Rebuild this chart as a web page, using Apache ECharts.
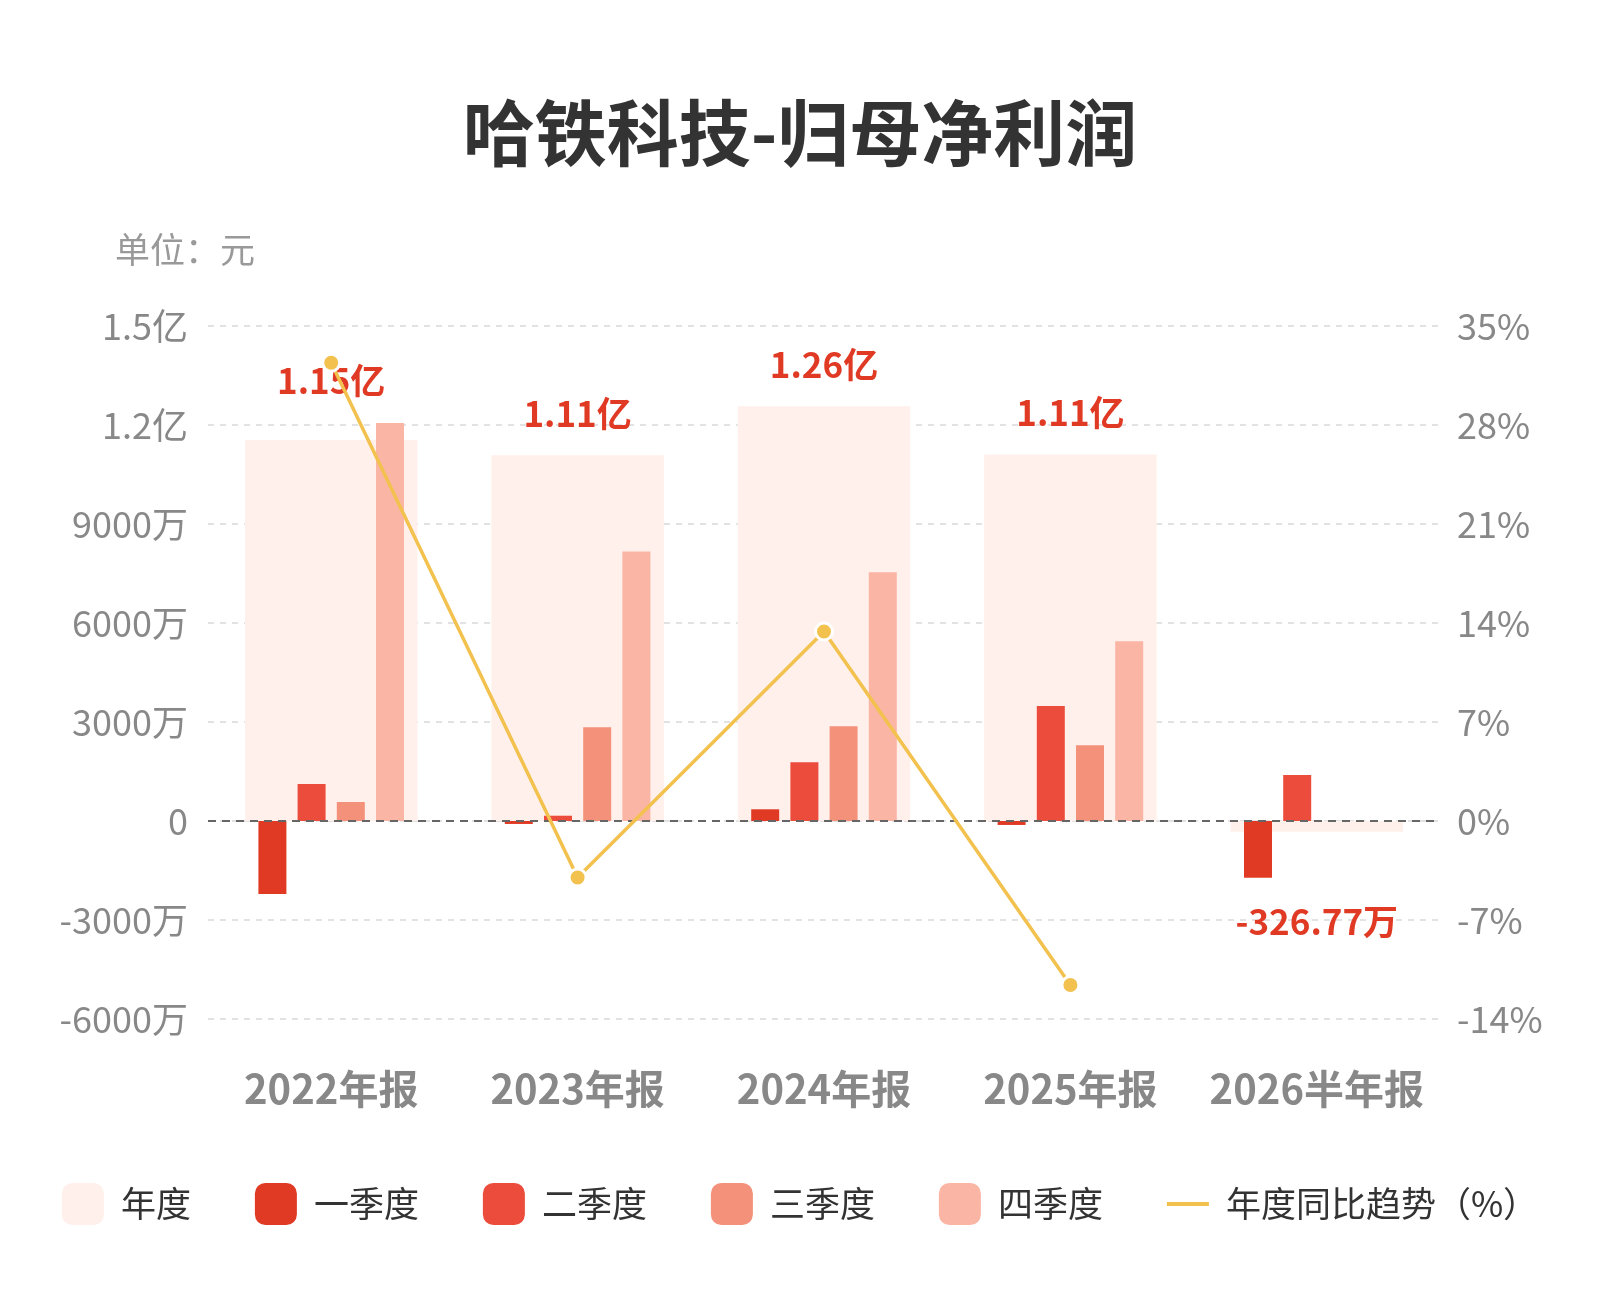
<!DOCTYPE html>
<html>
<head>
<meta charset="utf-8">
<script src="https://cdn.jsdelivr.net/npm/echarts@6/dist/echarts.min.js"></script>
<style>
html,body{margin:0;padding:0;background:#fff;}
#main{width:1600px;height:1300px;}
</style>
</head>
<body>
<div id="main"></div>
<script>
const categories = ['2022年报', '2023年报', '2024年报', '2025年报', '2026半年报'];
const annual = [115450000, 110800000, 125670000, 111040000, -3267700];
const q1 = [-22120000, -900000, 3550000, -1200000, -17207700];
const q2 = [11210000, 1600000, 17790000, 34850000, 13940000];
const q3 = [5760000, 28400000, 28700000, 22940000, null];
const q4 = [120600000, 81700000, 75360000, 54450000, null];
const yoy = [32.4, -4.0, 13.4, -11.6, null];
const leftTicks = { min: -60000000, max: 150000000, interval: 30000000 };
const rightTicks = { min: -14, max: 35, interval: 7 };

const FONT = '"Noto Sans CJK SC", "Noto Sans", sans-serif';
const labelDistances = [42, 24, 24, 24, 72];

function fmtAxis(v) {
  if (v === 0) return '0';
  if (Math.abs(v) >= 1e8) return (v / 1e8) + '亿';
  return (v / 1e4) + '万';
}
function fmtVal(v) {
  if (Math.abs(v) >= 1e8) return (v / 1e8).toFixed(2) + '亿';
  return (v / 1e4).toFixed(2) + '万';
}

const chart = echarts.init(document.getElementById('main'));
const qColors = ['#E03A25', '#EC4C3C', '#F3917A', '#FBB5A4'];
const qNames = ['一季度', '二季度', '三季度', '四季度'];
const qData = [q1, q2, q3, q4];
const lineColor = '#F2C14E';

const series = [{
  name: '年度',
  type: 'bar',
  xAxisIndex: 0,
  yAxisIndex: 0,
  barWidth: '70%',
  itemStyle: { color: '#FFF0EB' },
  data: annual.map((v, i) => ({
    value: v,
    label: {
      show: true,
      position: v >= 0 ? 'top' : 'bottom',
      distance: labelDistances[i],
      formatter: p => fmtVal(p.value),
      color: '#E03A25',
      fontSize: 35,
      fontWeight: 'bold',
      fontFamily: FONT
    }
  })),
  z: 1
}];
qData.forEach((d, k) => {
  const s = {
    name: qNames[k],
    type: 'bar',
    xAxisIndex: 1,
    yAxisIndex: 0,
    barWidth: 28,
    barGap: '40%',
    itemStyle: { color: qColors[k] },
    data: d,
    z: 2
  };
  if (k === 3) {
    s.markLine = {
      silent: true,
      symbol: 'none',
      label: { show: false },
      lineStyle: { color: '#666', type: [8, 6], width: 2 },
      data: [{ yAxis: 0 }]
    };
  }
  series.push(s);
});
series.push({
  name: '年度同比趋势（%）',
  type: 'line',
  xAxisIndex: 0,
  yAxisIndex: 1,
  data: yoy,
  symbol: 'circle',
  symbolSize: 17,
  lineStyle: { color: lineColor, width: 3.5 },
  itemStyle: { color: lineColor, borderColor: '#fff', borderWidth: 3 },
  z: 10
});

const option = {
  backgroundColor: '#fff',
  animation: false,
  title: [{
    text: '哈铁科技-归母净利润',
    left: 'center',
    top: 92,
    textStyle: { fontSize: 72, fontWeight: 'bold', color: '#333', fontFamily: FONT }
  }, {
    text: '单位：元',
    left: 110,
    top: 227,
    textStyle: { fontSize: 35, fontWeight: 'normal', color: '#999', fontFamily: FONT }
  }],
  legend: {
    bottom: 70,
    left: 'center',
    itemWidth: 42,
    itemHeight: 42,
    itemGap: 64,
    textStyle: { fontSize: 35, color: '#333', fontFamily: FONT, padding: [0, 0, 0, 12] },
    data: [
      { name: '年度', icon: 'roundRect' },
      { name: '一季度', icon: 'roundRect' },
      { name: '二季度', icon: 'roundRect' },
      { name: '三季度', icon: 'roundRect' },
      { name: '四季度', icon: 'roundRect' },
      { name: '年度同比趋势（%）', icon: 'path://M0,0M42,42M0,19h42v4h-42z',
        itemStyle: { color: lineColor, borderWidth: 0 } }
    ]
  },
  grid: { left: 208, right: 160, top: 326, bottom: 281 },
  xAxis: [{
    type: 'category',
    data: categories,
    axisLine: { show: false },
    axisTick: { show: false },
    axisLabel: { interval: 0, fontSize: 40, fontWeight: 'bold', color: '#888', margin: 50, fontFamily: FONT }
  }, {
    type: 'category',
    data: categories,
    show: false
  }],
  yAxis: [{
    type: 'value',
    min: leftTicks.min,
    max: leftTicks.max,
    interval: leftTicks.interval,
    axisLine: { show: false },
    axisTick: { show: false },
    axisLabel: { formatter: fmtAxis, fontSize: 36, color: '#888', margin: 20, fontFamily: FONT },
    splitLine: { lineStyle: { color: '#e2e2e2', type: [6, 6], width: 2 } }
  }, {
    type: 'value',
    min: rightTicks.min,
    max: rightTicks.max,
    interval: rightTicks.interval,
    axisLine: { show: false },
    axisTick: { show: false },
    axisLabel: { formatter: '{value}%', fontSize: 36, color: '#888', margin: 17, fontFamily: FONT },
    splitLine: { show: false }
  }],
  series: series
};
chart.setOption(option);
</script>
</body>
</html>
